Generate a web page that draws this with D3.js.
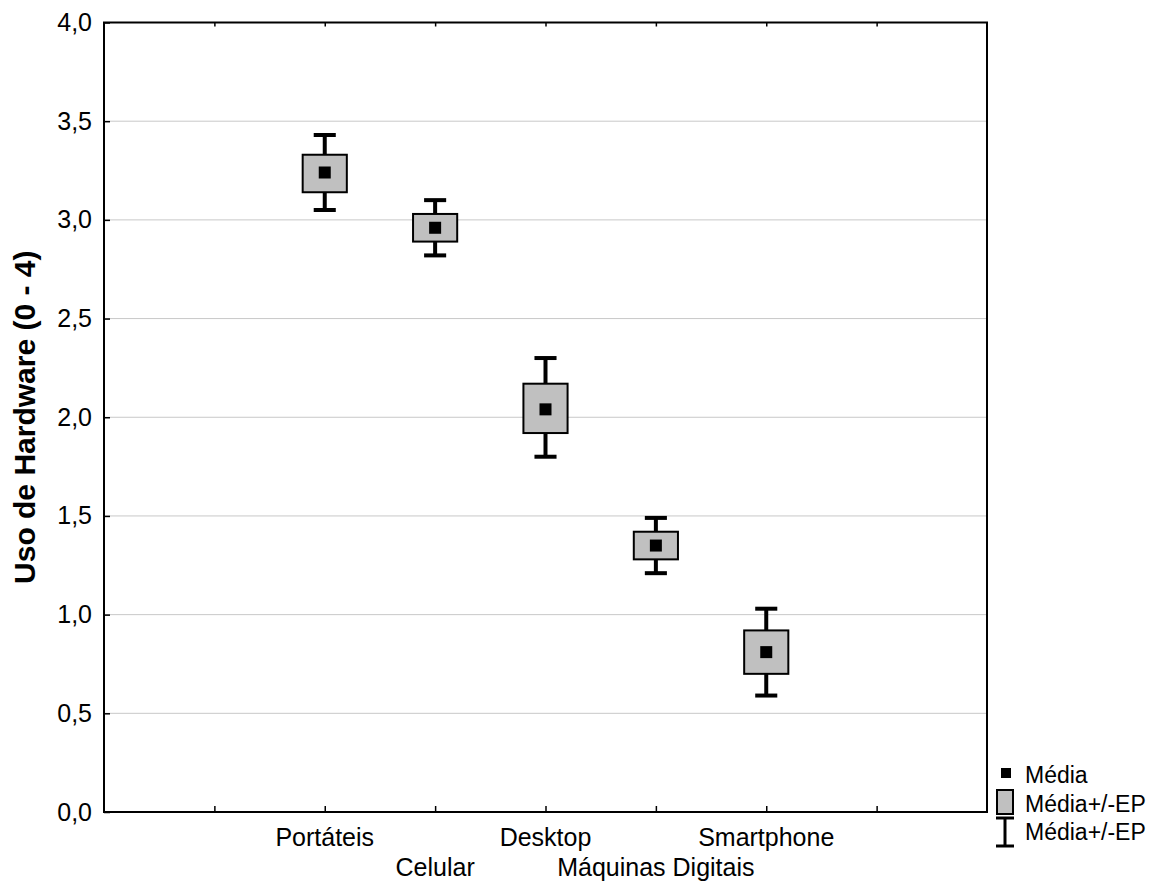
<!DOCTYPE html>
<html>
<head>
<meta charset="utf-8">
<script src="https://cdn.jsdelivr.net/npm/d3@7"></script>
<style>
  html, body { margin: 0; padding: 0; background: #fff; }
  svg { display: block; font-family: Arial, "Liberation Sans", sans-serif; }
</style>
</head>
<body>
<svg id="chart" width="1157" height="881"></svg>
<script>
// Hardware usage (0-4): mean, mean +/- SE box, whisker range
const categories = ["Portáteis", "Celular", "Desktop", "Máquinas Digitais", "Smartphone"];
const means      = [3.24, 2.96, 2.04, 1.35, 0.81];
const boxLow     = [3.14, 2.89, 1.92, 1.28, 0.70];
const boxHigh    = [3.33, 3.03, 2.17, 1.42, 0.92];
const whiskLow   = [3.05, 2.82, 1.80, 1.21, 0.59];
const whiskHigh  = [3.43, 3.10, 2.30, 1.49, 1.03];
const yTicks     = [0, 0.5, 1, 1.5, 2, 2.5, 3, 3.5, 4];
const legendLabels = ["Média", "Média+/-EP", "Média+/-EP"];
const yTitle = "Uso de Hardware (0 - 4)";

const svg = d3.select("#chart");
const plotLeft = 104, plotRight = 987, plotTop = 22.5, plotBottom = 812;

// categories sit at slots 2..6 of an 8-slot axis
const x = d3.scaleLinear().domain([0, 8]).range([plotLeft, plotRight]);
const y = d3.scaleLinear().domain([0, 4]).range([plotBottom, plotTop]);
const pos = i => i + 2;

const fmt = d => d3.format(".1f")(d).replace(".", ",");

// gridlines
svg.append("g")
  .selectAll("line")
  .data(yTicks.filter(v => v > 0 && v < 4))
  .join("line")
  .attr("x1", plotLeft).attr("x2", plotRight)
  .attr("y1", d => y(d)).attr("y2", d => y(d))
  .attr("stroke", "#c8c8c8").attr("stroke-width", 1);

// y axis: inward ticks
const yAxis = svg.append("g")
  .attr("transform", `translate(${plotLeft},0)`)
  .call(d3.axisLeft(y).tickValues(yTicks).tickFormat(fmt).tickSize(-6).tickPadding(12));
yAxis.select(".domain").remove();
yAxis.selectAll("line").attr("stroke", "#000").attr("stroke-width", 1.5);
yAxis.selectAll("text").attr("font-size", 25).attr("fill", "#000")
  .attr("font-family", "Arial, 'Liberation Sans', sans-serif");

// x axis: inward ticks, no labels
const xAxis = svg.append("g")
  .attr("transform", `translate(0,${plotBottom})`)
  .call(d3.axisBottom(x).tickValues(d3.range(1, 8)).tickFormat("").tickSize(-6));
xAxis.select(".domain").remove();
xAxis.selectAll("line").attr("stroke", "#000").attr("stroke-width", 1.5);

// top ticks
const xTop = svg.append("g")
  .attr("transform", `translate(0,${plotTop})`)
  .call(d3.axisTop(x).tickValues(d3.range(1, 8)).tickFormat("").tickSize(-4));
xTop.select(".domain").remove();
xTop.selectAll("line").attr("stroke", "#000").attr("stroke-width", 1.5);

// plot frame
svg.append("rect")
  .attr("x", plotLeft).attr("y", plotTop)
  .attr("width", plotRight - plotLeft).attr("height", plotBottom - plotTop)
  .attr("fill", "none").attr("stroke", "#000").attr("stroke-width", 2);

// category labels in two staggered rows
svg.append("g")
  .selectAll("text")
  .data(categories)
  .join("text")
  .attr("x", (d, i) => x(pos(i)))
  .attr("y", (d, i) => i % 2 === 0 ? 846 : 876)
  .attr("text-anchor", "middle")
  .attr("font-size", 25)
  .attr("fill", "#000")
  .text(d => d);

// y title
svg.append("text")
  .attr("transform", `translate(35,${(plotTop + plotBottom) / 2}) rotate(-90)`)
  .attr("text-anchor", "middle")
  .attr("font-size", 30)
  .attr("font-weight", "bold")
  .attr("fill", "#000")
  .text(yTitle);

// marks
const boxW = x(0.4) - x(0);
const capW = x(0.2) - x(0);
const markS = 12;
const g = svg.append("g");
categories.forEach((c, i) => {
  const cx = x(pos(i));
  // whisker
  g.append("line")
    .attr("x1", cx).attr("x2", cx)
    .attr("y1", y(whiskLow[i])).attr("y2", y(whiskHigh[i]))
    .attr("stroke", "#000").attr("stroke-width", 4);
  [whiskLow[i], whiskHigh[i]].forEach(v => {
    g.append("line")
      .attr("x1", cx - capW / 2).attr("x2", cx + capW / 2)
      .attr("y1", y(v)).attr("y2", y(v))
      .attr("stroke", "#000").attr("stroke-width", 4);
  });
  // SE box
  g.append("rect")
    .attr("x", cx - boxW / 2).attr("width", boxW)
    .attr("y", y(boxHigh[i])).attr("height", y(boxLow[i]) - y(boxHigh[i]))
    .attr("fill", "#c0c0c0").attr("stroke", "#000").attr("stroke-width", 2);
  // mean
  g.append("rect")
    .attr("x", cx - markS / 2).attr("y", y(means[i]) - markS / 2)
    .attr("width", markS).attr("height", markS)
    .attr("fill", "#000");
});

// legend
const lg = svg.append("g");
const lx = 1025;
const rows = [783, 812, 840];
lg.append("rect").attr("x", 1001).attr("y", rows[0] - 15).attr("width", 10).attr("height", 10).attr("fill", "#000");
lg.append("rect").attr("x", 997).attr("y", rows[1] - 22).attr("width", 16).attr("height", 24)
  .attr("fill", "#c0c0c0").attr("stroke", "#000").attr("stroke-width", 2);
lg.append("line").attr("x1", 1005).attr("x2", 1005).attr("y1", rows[2] - 22).attr("y2", rows[2] + 6)
  .attr("stroke", "#000").attr("stroke-width", 3);
lg.append("line").attr("x1", 996).attr("x2", 1014).attr("y1", rows[2] - 22).attr("y2", rows[2] - 22)
  .attr("stroke", "#000").attr("stroke-width", 3);
lg.append("line").attr("x1", 996).attr("x2", 1014).attr("y1", rows[2] + 6).attr("y2", rows[2] + 6)
  .attr("stroke", "#000").attr("stroke-width", 3);
lg.selectAll("text.lab")
  .data(legendLabels)
  .join("text")
  .attr("class", "lab")
  .attr("x", lx)
  .attr("y", (d, i) => rows[i])
  .attr("font-size", 23)
  .attr("fill", "#000")
  .text(d => d);
</script>
</body>
</html>
